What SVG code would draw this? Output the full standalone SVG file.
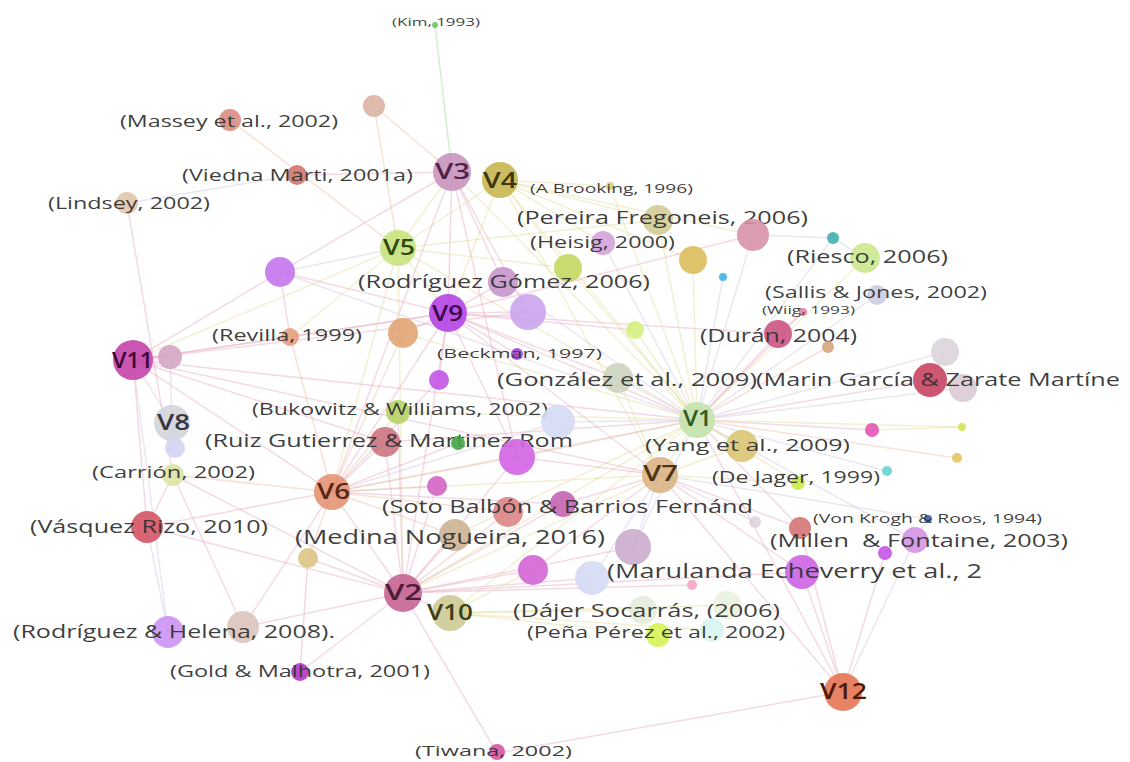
<svg xmlns="http://www.w3.org/2000/svg" width="1130" height="762" viewBox="0 0 1130 762">
<style>
.bg{fill:#ffffff}
#edges line{stroke-width:1.5;stroke-opacity:.45;fill:none}
.p{stroke:#e6adc4}.y{stroke:#e2dda0}.g{stroke:#d0c8e2}.o{stroke:#ebbfa9}.gr{stroke:#9edc94}
.n circle{fill-opacity:.9}
text{font-family:"Open Sans","DejaVu Sans",sans-serif}
.t{fill:#333333;fill-opacity:.95}
.v{font-size:22px;font-weight:600}
</style>
<rect class="bg" width="1130" height="762"/>
<g id="edges">
<line class="gr" x1="435" y1="25" x2="452" y2="172"/>
<line class="o" x1="230" y1="120" x2="398" y2="248"/>
<line class="o" x1="374" y1="106" x2="452" y2="172"/>
<line class="o" x1="374" y1="106" x2="398" y2="248"/>
<line class="p" x1="297" y1="175" x2="452" y2="172"/>
<line class="g" x1="127" y1="203" x2="297" y2="175"/>
<line class="p" x1="127" y1="203" x2="173" y2="475"/>
<line class="y" x1="452" y1="172" x2="398" y2="248"/>
<line class="p" x1="452" y1="172" x2="448" y2="313"/>
<line class="p" x1="452" y1="172" x2="503" y2="282"/>
<line class="p" x1="452" y1="172" x2="528" y2="312"/>
<line class="y" x1="452" y1="172" x2="697" y2="420"/>
<line class="p" x1="452" y1="172" x2="280" y2="272"/>
<line class="p" x1="452" y1="172" x2="332" y2="492"/>
<line class="p" x1="452" y1="172" x2="517" y2="457"/>
<line class="y" x1="500" y1="180" x2="658" y2="220"/>
<line class="y" x1="500" y1="180" x2="610" y2="186"/>
<line class="y" x1="500" y1="180" x2="697" y2="420"/>
<line class="y" x1="500" y1="180" x2="693" y2="260"/>
<line class="y" x1="500" y1="180" x2="603" y2="243"/>
<line class="y" x1="500" y1="180" x2="398" y2="248"/>
<line class="y" x1="500" y1="180" x2="568" y2="268"/>
<line class="y" x1="500" y1="180" x2="753" y2="235"/>
<line class="y" x1="500" y1="180" x2="448" y2="313"/>
<line class="y" x1="500" y1="180" x2="660" y2="475"/>
<line class="g" x1="398" y1="248" x2="280" y2="272"/>
<line class="y" x1="398" y1="248" x2="448" y2="313"/>
<line class="y" x1="398" y1="248" x2="568" y2="268"/>
<line class="y" x1="398" y1="248" x2="697" y2="420"/>
<line class="y" x1="398" y1="248" x2="658" y2="220"/>
<line class="y" x1="398" y1="248" x2="133" y2="360"/>
<line class="y" x1="398" y1="248" x2="332" y2="492"/>
<line class="y" x1="398" y1="248" x2="290" y2="337"/>
<line class="y" x1="398" y1="248" x2="403" y2="593"/>
<line class="p" x1="448" y1="313" x2="280" y2="272"/>
<line class="p" x1="448" y1="313" x2="133" y2="360"/>
<line class="p" x1="448" y1="313" x2="528" y2="312"/>
<line class="p" x1="448" y1="313" x2="517" y2="354"/>
<line class="p" x1="448" y1="313" x2="439" y2="380"/>
<line class="p" x1="448" y1="313" x2="403" y2="333"/>
<line class="p" x1="448" y1="313" x2="778" y2="334"/>
<line class="p" x1="448" y1="313" x2="503" y2="282"/>
<line class="p" x1="448" y1="313" x2="403" y2="593"/>
<line class="p" x1="448" y1="313" x2="332" y2="492"/>
<line class="p" x1="448" y1="313" x2="290" y2="337"/>
<line class="p" x1="448" y1="313" x2="517" y2="457"/>
<line class="p" x1="448" y1="313" x2="618" y2="378"/>
<line class="p" x1="448" y1="313" x2="753" y2="235"/>
<line class="p" x1="448" y1="313" x2="635" y2="330"/>
<line class="p" x1="448" y1="313" x2="697" y2="420"/>
<line class="p" x1="133" y1="360" x2="170" y2="357"/>
<line class="p" x1="133" y1="360" x2="290" y2="337"/>
<line class="g" x1="133" y1="360" x2="172" y2="423"/>
<line class="p" x1="133" y1="360" x2="147" y2="527"/>
<line class="p" x1="133" y1="360" x2="332" y2="492"/>
<line class="p" x1="133" y1="360" x2="385" y2="442"/>
<line class="p" x1="133" y1="360" x2="528" y2="312"/>
<line class="g" x1="133" y1="360" x2="168" y2="632"/>
<line class="p" x1="133" y1="360" x2="697" y2="420"/>
<line class="p" x1="133" y1="360" x2="280" y2="272"/>
<line class="g" x1="170" y1="357" x2="172" y2="423"/>
<line class="g" x1="172" y1="423" x2="175" y2="448"/>
<line class="p" x1="280" y1="272" x2="290" y2="337"/>
<line class="g" x1="280" y1="272" x2="697" y2="420"/>
<line class="y" x1="697" y1="420" x2="658" y2="220"/>
<line class="g" x1="697" y1="420" x2="753" y2="235"/>
<line class="y" x1="697" y1="420" x2="865" y2="258"/>
<line class="g" x1="697" y1="420" x2="877" y2="295"/>
<line class="p" x1="697" y1="420" x2="778" y2="334"/>
<line class="p" x1="697" y1="420" x2="930" y2="380"/>
<line class="g" x1="697" y1="420" x2="945" y2="352"/>
<line class="g" x1="697" y1="420" x2="963" y2="388"/>
<line class="p" x1="697" y1="420" x2="872" y2="430"/>
<line class="y" x1="697" y1="420" x2="962" y2="427"/>
<line class="o" x1="697" y1="420" x2="957" y2="458"/>
<line class="g" x1="697" y1="420" x2="887" y2="471"/>
<line class="y" x1="697" y1="420" x2="742" y2="446"/>
<line class="y" x1="697" y1="420" x2="798" y2="483"/>
<line class="g" x1="697" y1="420" x2="618" y2="378"/>
<line class="y" x1="697" y1="420" x2="635" y2="330"/>
<line class="y" x1="697" y1="420" x2="693" y2="260"/>
<line class="g" x1="697" y1="420" x2="723" y2="277"/>
<line class="y" x1="697" y1="420" x2="660" y2="475"/>
<line class="g" x1="697" y1="420" x2="558" y2="422"/>
<line class="y" x1="697" y1="420" x2="332" y2="492"/>
<line class="y" x1="697" y1="420" x2="403" y2="593"/>
<line class="g" x1="697" y1="420" x2="603" y2="243"/>
<line class="y" x1="697" y1="420" x2="568" y2="268"/>
<line class="g" x1="697" y1="420" x2="833" y2="238"/>
<line class="p" x1="697" y1="420" x2="803" y2="312"/>
<line class="o" x1="697" y1="420" x2="828" y2="347"/>
<line class="p" x1="697" y1="420" x2="517" y2="457"/>
<line class="p" x1="697" y1="420" x2="385" y2="442"/>
<line class="y" x1="697" y1="420" x2="398" y2="412"/>
<line class="g" x1="697" y1="420" x2="915" y2="540"/>
<line class="p" x1="697" y1="420" x2="800" y2="528"/>
<line class="p" x1="697" y1="420" x2="843" y2="692"/>
<line class="g" x1="697" y1="420" x2="503" y2="282"/>
<line class="y" x1="697" y1="420" x2="403" y2="333"/>
<line class="y" x1="697" y1="420" x2="450" y2="613"/>
<line class="y" x1="697" y1="420" x2="455" y2="535"/>
<line class="g" x1="697" y1="420" x2="633" y2="547"/>
<line class="y" x1="697" y1="420" x2="610" y2="186"/>
<line class="y" x1="660" y1="475" x2="742" y2="446"/>
<line class="g" x1="660" y1="475" x2="633" y2="547"/>
<line class="p" x1="660" y1="475" x2="563" y2="504"/>
<line class="y" x1="660" y1="475" x2="798" y2="483"/>
<line class="p" x1="660" y1="475" x2="800" y2="528"/>
<line class="p" x1="660" y1="475" x2="802" y2="572"/>
<line class="g" x1="660" y1="475" x2="755" y2="522"/>
<line class="g" x1="660" y1="475" x2="928" y2="519"/>
<line class="y" x1="660" y1="475" x2="403" y2="593"/>
<line class="p" x1="660" y1="475" x2="517" y2="457"/>
<line class="y" x1="660" y1="475" x2="618" y2="378"/>
<line class="p" x1="660" y1="475" x2="843" y2="692"/>
<line class="g" x1="660" y1="475" x2="592" y2="578"/>
<line class="p" x1="660" y1="475" x2="533" y2="570"/>
<line class="y" x1="660" y1="475" x2="332" y2="492"/>
<line class="p" x1="660" y1="475" x2="448" y2="313"/>
<line class="p" x1="660" y1="475" x2="133" y2="360"/>
<line class="p" x1="332" y1="492" x2="385" y2="442"/>
<line class="o" x1="332" y1="492" x2="290" y2="337"/>
<line class="o" x1="332" y1="492" x2="403" y2="333"/>
<line class="o" x1="332" y1="492" x2="398" y2="412"/>
<line class="p" x1="332" y1="492" x2="437" y2="486"/>
<line class="o" x1="332" y1="492" x2="508" y2="512"/>
<line class="o" x1="332" y1="492" x2="455" y2="535"/>
<line class="o" x1="332" y1="492" x2="308" y2="558"/>
<line class="p" x1="332" y1="492" x2="147" y2="527"/>
<line class="o" x1="332" y1="492" x2="173" y2="475"/>
<line class="p" x1="332" y1="492" x2="458" y2="443"/>
<line class="p" x1="332" y1="492" x2="517" y2="457"/>
<line class="p" x1="332" y1="492" x2="403" y2="593"/>
<line class="p" x1="332" y1="492" x2="439" y2="380"/>
<line class="p" x1="332" y1="492" x2="563" y2="504"/>
<line class="g" x1="332" y1="492" x2="558" y2="422"/>
<line class="p" x1="403" y1="593" x2="455" y2="535"/>
<line class="p" x1="403" y1="593" x2="308" y2="558"/>
<line class="p" x1="403" y1="593" x2="533" y2="570"/>
<line class="p" x1="403" y1="593" x2="592" y2="578"/>
<line class="p" x1="403" y1="593" x2="508" y2="512"/>
<line class="p" x1="403" y1="593" x2="147" y2="527"/>
<line class="p" x1="403" y1="593" x2="243" y2="627"/>
<line class="p" x1="403" y1="593" x2="300" y2="672"/>
<line class="p" x1="403" y1="593" x2="497" y2="753"/>
<line class="p" x1="403" y1="593" x2="450" y2="613"/>
<line class="p" x1="403" y1="593" x2="802" y2="572"/>
<line class="p" x1="403" y1="593" x2="633" y2="547"/>
<line class="p" x1="403" y1="593" x2="692" y2="585"/>
<line class="p" x1="403" y1="593" x2="437" y2="486"/>
<line class="p" x1="403" y1="593" x2="385" y2="442"/>
<line class="p" x1="403" y1="593" x2="398" y2="412"/>
<line class="p" x1="403" y1="593" x2="173" y2="475"/>
<line class="p" x1="403" y1="593" x2="563" y2="504"/>
<line class="p" x1="403" y1="593" x2="517" y2="457"/>
<line class="y" x1="450" y1="613" x2="643" y2="610"/>
<line class="y" x1="450" y1="613" x2="658" y2="635"/>
<line class="y" x1="450" y1="613" x2="712" y2="630"/>
<line class="y" x1="450" y1="613" x2="533" y2="570"/>
<line class="y" x1="450" y1="613" x2="727" y2="605"/>
<line class="p" x1="843" y1="692" x2="497" y2="753"/>
<line class="p" x1="843" y1="692" x2="802" y2="572"/>
<line class="g" x1="843" y1="692" x2="915" y2="540"/>
<line class="p" x1="843" y1="692" x2="885" y2="553"/>
<line class="p" x1="843" y1="692" x2="800" y2="528"/>
<line class="g" x1="147" y1="527" x2="168" y2="632"/>
<line class="p" x1="173" y1="475" x2="147" y2="527"/>
<line class="p" x1="173" y1="475" x2="243" y2="627"/>
<line class="p" x1="308" y1="558" x2="300" y2="672"/>
<line class="p" x1="930" y1="380" x2="945" y2="352"/>
<line class="p" x1="930" y1="380" x2="963" y2="388"/>
<line class="p" x1="778" y1="334" x2="803" y2="312"/>
<line class="g" x1="865" y1="258" x2="833" y2="238"/>
<line class="g" x1="753" y1="235" x2="833" y2="238"/>
<line class="g" x1="915" y1="540" x2="928" y2="519"/>
<line class="y" x1="872" y1="430" x2="962" y2="427"/>
<line class="p" x1="243" y1="627" x2="332" y2="492"/>
</g>
<g id="nodes">
<g id="kim" class="n"><circle cx="435" cy="25" r="3" fill="#6cc860"/><text class="t" x="392" y="26" font-size="10" textLength="88" lengthAdjust="spacingAndGlyphs">(Kim, 1993)</text></g>
<g id="massey" class="n"><circle cx="230" cy="120" r="11" fill="#d98c80"/><text class="t" x="120" y="127" font-size="16" textLength="218" lengthAdjust="spacingAndGlyphs">(Massey et al., 2002)</text></g>
<g id="a1" class="n"><circle cx="374" cy="106" r="11" fill="#dcb4a4"/></g>
<g id="viedna" class="n"><circle cx="297" cy="175" r="10" fill="#d0766c"/><text class="t" x="182" y="181" font-size="16" textLength="231" lengthAdjust="spacingAndGlyphs">(Viedna Marti, 2001a)</text></g>
<g id="lindsey" class="n"><circle cx="127" cy="203" r="11" fill="#e2c4ac"/><text class="t" x="48" y="209" font-size="16" textLength="162" lengthAdjust="spacingAndGlyphs">(Lindsey, 2002)</text></g>
<g id="v3" class="n"><circle cx="452" cy="172" r="19" fill="#c994bc"/><text class="v" x="435" y="179" textLength="35" lengthAdjust="spacingAndGlyphs" fill="#4e2446">V3</text></g>
<g id="v4" class="n"><circle cx="500" cy="180" r="18" fill="#c8b650"/><text class="v" x="483" y="188" textLength="34" lengthAdjust="spacingAndGlyphs" fill="#3e360c">V4</text></g>
<g id="brooking" class="n"><circle cx="610" cy="186" r="4" fill="#d8d080"/><text class="t" x="530" y="193" font-size="12" textLength="163" lengthAdjust="spacingAndGlyphs">(A Brooking, 1996)</text></g>
<g id="pereira" class="n"><circle cx="658" cy="220" r="15" fill="#d2cc94"/><text class="t" x="517" y="224" font-size="18" textLength="291" lengthAdjust="spacingAndGlyphs">(Pereira Fregoneis, 2006)</text></g>
<g id="pink1" class="n"><circle cx="753" cy="235" r="16" fill="#d892aa"/></g>
<g id="teal" class="n"><circle cx="833" cy="238" r="6" fill="#3fb0b0"/></g>
<g id="riesco" class="n"><circle cx="865" cy="258" r="15" fill="#cce88e"/><text class="t" x="787" y="263" font-size="18" textLength="161" lengthAdjust="spacingAndGlyphs">(Riesco, 2006)</text></g>
<g id="v5" class="n"><circle cx="398" cy="248" r="18" fill="#c8e27e"/><text class="v" x="383" y="255" textLength="32" lengthAdjust="spacingAndGlyphs" fill="#2f4c0c">V5</text></g>
<g id="heisig" class="n"><circle cx="603" cy="243" r="12" fill="#d4a2dc"/><text class="t" x="530" y="248" font-size="17" textLength="145" lengthAdjust="spacingAndGlyphs">(Heisig, 2000)</text></g>
<g id="yg1" class="n"><circle cx="568" cy="268" r="14" fill="#c4d862"/></g>
<g id="gold1" class="n"><circle cx="693" cy="260" r="14" fill="#dcbc5c"/></g>
<g id="blue" class="n"><circle cx="723" cy="277" r="4" fill="#40b4e4"/></g>
<g id="purp1" class="n"><circle cx="280" cy="272" r="15" fill="#c474ec"/></g>
<g id="rgomez" class="n"><circle cx="503" cy="282" r="15" fill="#c896cc"/><text class="t" x="358" y="288" font-size="18" textLength="292" lengthAdjust="spacingAndGlyphs">(Rodríguez Gómez, 2006)</text></g>
<g id="sallis" class="n"><circle cx="877" cy="295" r="10" fill="#cccce2"/><text class="t" x="765" y="298" font-size="16" textLength="222" lengthAdjust="spacingAndGlyphs">(Sallis &amp; Jones, 2002)</text></g>
<g id="wiig" class="n"><circle cx="803" cy="312" r="4" fill="#e880a0"/><text class="t" x="762" y="314" font-size="10" textLength="93" lengthAdjust="spacingAndGlyphs">(Wiig, 1993)</text></g>
<g id="v9" class="n"><circle cx="448" cy="313" r="19" fill="#b444e4"/><text class="v" x="432" y="321" textLength="31" lengthAdjust="spacingAndGlyphs" fill="#3e0852">V9</text></g>
<g id="lav1" class="n"><circle cx="528" cy="312" r="18" fill="#caa4ec"/></g>
<g id="yg2" class="n"><circle cx="635" cy="330" r="9" fill="#d4f080"/></g>
<g id="revilla" class="n"><circle cx="290" cy="337" r="9" fill="#e4a07c"/><text class="t" x="212" y="341" font-size="16" textLength="150" lengthAdjust="spacingAndGlyphs">(Revilla, 1999)</text></g>
<g id="or1" class="n"><circle cx="403" cy="333" r="15" fill="#e2a474"/></g>
<g id="duran" class="n"><circle cx="778" cy="334" r="14" fill="#cc5484"/><text class="t" x="700" y="342" font-size="18" textLength="157" lengthAdjust="spacingAndGlyphs">(Durán, 2004)</text></g>
<g id="or2" class="n"><circle cx="828" cy="347" r="6" fill="#d4a67c"/></g>
<g id="v11" class="n"><circle cx="133" cy="360" r="20" fill="#c444aa"/><text class="v" x="112" y="368" textLength="41" lengthAdjust="spacingAndGlyphs" fill="#3e0636">V11</text></g>
<g id="v11b" class="n"><circle cx="170" cy="357" r="12" fill="#d4a6c4"/></g>
<g id="beckman" class="n"><circle cx="517" cy="354" r="6" fill="#a444d4"/><text class="t" x="437" y="358" font-size="12" textLength="165" lengthAdjust="spacingAndGlyphs">(Beckman, 1997)</text></g>
<g id="purp2" class="n"><circle cx="439" cy="380" r="10" fill="#c454e4"/></g>
<g id="gonz" class="n"><circle cx="618" cy="378" r="15" fill="#ccd4bc"/><text class="t" x="497" y="386" font-size="18" textLength="260" lengthAdjust="spacingAndGlyphs">(González et al., 2009)</text></g>
<g id="gray1" class="n"><circle cx="945" cy="352" r="14" fill="#dcd4dc"/></g>
<g id="marin" class="n"><circle cx="930" cy="380" r="17" fill="#c84464"/><circle cx="963" cy="388" r="14" fill="#dccad4"/><text class="t" x="756" y="386" font-size="18" textLength="364" lengthAdjust="spacingAndGlyphs">(Marin García &amp; Zarate Martíne</text></g>
<g id="v1" class="n"><circle cx="697" cy="420" r="18" fill="#c4e2ac"/><text class="v" x="683" y="426" textLength="29" lengthAdjust="spacingAndGlyphs" fill="#2f5a24">V1</text></g>
<g id="bukowitz" class="n"><circle cx="398" cy="412" r="12" fill="#b4d464"/><text class="t" x="252" y="415" font-size="16" textLength="296" lengthAdjust="spacingAndGlyphs">(Bukowitz &amp; Williams, 2002)</text></g>
<g id="lb1" class="n"><circle cx="558" cy="422" r="17" fill="#d4dcf4"/></g>
<g id="v8" class="n"><circle cx="172" cy="423" r="18" fill="#d4d4dc"/><circle cx="175" cy="448" r="10" fill="#d4d4f4"/><text class="v" x="157" y="430" textLength="33" lengthAdjust="spacingAndGlyphs" fill="#36363e">V8</text></g>
<g id="ruiz" class="n"><circle cx="385" cy="442" r="15" fill="#cc7480"/><text class="t" x="205" y="447" font-size="18" textLength="368" lengthAdjust="spacingAndGlyphs">(Ruiz Gutierrez &amp; Martinez Rom</text></g>
<g id="green" class="n"><circle cx="458" cy="443" r="7" fill="#44a444"/></g>
<g id="mag1" class="n"><circle cx="517" cy="457" r="18" fill="#d464e4"/></g>
<g id="yang" class="n"><circle cx="742" cy="446" r="16" fill="#dcc474"/><text class="t" x="645" y="451" font-size="17" textLength="205" lengthAdjust="spacingAndGlyphs">(Yang et al., 2009)</text></g>
<g id="pink2" class="n"><circle cx="872" cy="430" r="7" fill="#e454b4"/></g>
<g id="y3" class="n"><circle cx="962" cy="427" r="4" fill="#d4e454"/></g>
<g id="y4" class="n"><circle cx="957" cy="458" r="5" fill="#e4c464"/></g>
<g id="teal2" class="n"><circle cx="887" cy="471" r="5" fill="#64d4d4"/></g>
<g id="carrion" class="n"><circle cx="173" cy="475" r="11" fill="#dce4a4"/><text class="t" x="92" y="478" font-size="16" textLength="163" lengthAdjust="spacingAndGlyphs">(Carrión, 2002)</text></g>
<g id="v6" class="n"><circle cx="332" cy="492" r="18" fill="#e49474"/><text class="v" x="317" y="499" textLength="33" lengthAdjust="spacingAndGlyphs" fill="#5a2618">V6</text></g>
<g id="v7" class="n"><circle cx="660" cy="475" r="18" fill="#dcb484"/><text class="v" x="643" y="481" textLength="35" lengthAdjust="spacingAndGlyphs" fill="#4c3618">V7</text></g>
<g id="dejager" class="n"><circle cx="798" cy="483" r="7" fill="#ccec44"/><text class="t" x="712" y="483" font-size="16" textLength="168" lengthAdjust="spacingAndGlyphs">(De Jager, 1999)</text></g>
<g id="mag2" class="n"><circle cx="437" cy="486" r="10" fill="#d464c4"/></g>
<g id="soto" class="n"><circle cx="508" cy="512" r="15" fill="#dc8484"/><circle cx="563" cy="504" r="13" fill="#c464b4"/><text class="t" x="382" y="513" font-size="18" textLength="371" lengthAdjust="spacingAndGlyphs">(Soto Balbón &amp; Barrios Fernánd</text></g>
<g id="gray3" class="n"><circle cx="755" cy="522" r="6" fill="#dcd4dc"/></g>
<g id="vonkrogh" class="n"><circle cx="928" cy="519" r="4" fill="#4464a4"/><text class="t" x="813" y="523" font-size="12" textLength="229" lengthAdjust="spacingAndGlyphs">(Von Krogh &amp; Roos, 1994)</text></g>
<g id="vasquez" class="n"><circle cx="147" cy="527" r="16" fill="#d45464"/><text class="t" x="30" y="533" font-size="18" textLength="238" lengthAdjust="spacingAndGlyphs">(Vásquez Rizo, 2010)</text></g>
<g id="medina" class="n"><circle cx="455" cy="535" r="16" fill="#ccb494"/><text class="t" x="295" y="544" font-size="20" textLength="310" lengthAdjust="spacingAndGlyphs">(Medina Nogueira, 2016)</text></g>
<g id="lav2" class="n"><circle cx="633" cy="547" r="18" fill="#ccaccc"/></g>
<g id="millen" class="n"><circle cx="800" cy="528" r="11" fill="#d47474"/><circle cx="915" cy="540" r="13" fill="#d494e4"/><circle cx="885" cy="553" r="7" fill="#c454e4"/><text class="t" x="770" y="547" font-size="18" textLength="298" lengthAdjust="spacingAndGlyphs" xml:space="preserve">(Millen  &amp; Fontaine, 2003)</text></g>
<g id="y5" class="n"><circle cx="308" cy="558" r="10" fill="#dcc484"/></g>
<g id="mag3" class="n"><circle cx="533" cy="570" r="15" fill="#d464d4"/></g>
<g id="lb2" class="n"><circle cx="592" cy="578" r="17" fill="#d4dcf4"/></g>
<g id="marul" class="n"><circle cx="802" cy="572" r="17" fill="#cc64e4"/><text class="t" x="607" y="578" font-size="20" textLength="375" lengthAdjust="spacingAndGlyphs">(Marulanda Echeverry et al., 2</text></g>
<g id="pink3" class="n"><circle cx="692" cy="585" r="5" fill="#f4a4c4"/></g>
<g id="v2" class="n"><circle cx="403" cy="593" r="19" fill="#c46494"/><text class="v" x="385" y="600" textLength="37" lengthAdjust="spacingAndGlyphs" fill="#4e1a36">V2</text></g>
<g id="v10" class="n"><circle cx="450" cy="613" r="18" fill="#ccca94"/><text class="v" x="427" y="620" textLength="46" lengthAdjust="spacingAndGlyphs" fill="#3e3e18">V10</text></g>
<g id="rhelena" class="n"><circle cx="168" cy="632" r="16" fill="#cc94f4"/><circle cx="243" cy="627" r="16" fill="#dcc4bc"/><text class="t" x="13" y="638" font-size="18" textLength="322" lengthAdjust="spacingAndGlyphs">(Rodríguez &amp; Helena, 2008).</text></g>
<g id="dajer" class="n"><circle cx="643" cy="610" r="14" fill="#e6ecdc"/><circle cx="727" cy="605" r="14" fill="#e8f2dc"/><text class="t" x="513" y="617" font-size="18" textLength="267" lengthAdjust="spacingAndGlyphs">(Dájer Socarrás, (2006)</text></g>
<g id="pena" class="n"><circle cx="712" cy="630" r="12" fill="#d8f4f0"/><circle cx="658" cy="635" r="12" fill="#d4f454"/><text class="t" x="527" y="638" font-size="16" textLength="258" lengthAdjust="spacingAndGlyphs">(Peña Pérez et al., 2002)</text></g>
<g id="gold" class="n"><circle cx="300" cy="672" r="9" fill="#b434c4"/><text class="t" x="170" y="677" font-size="16" textLength="260" lengthAdjust="spacingAndGlyphs">(Gold &amp; Malhotra, 2001)</text></g>
<g id="v12" class="n"><circle cx="843" cy="692" r="19" fill="#e47454"/><text class="v" x="820" y="699" textLength="47" lengthAdjust="spacingAndGlyphs" fill="#4e1a0a">V12</text></g>
<g id="tiwana" class="n"><circle cx="497" cy="752" r="8" fill="#d454a4"/><text class="t" x="415" y="756" font-size="15" textLength="157" lengthAdjust="spacingAndGlyphs">(Tiwana, 2002)</text></g>
</g>
</svg>
